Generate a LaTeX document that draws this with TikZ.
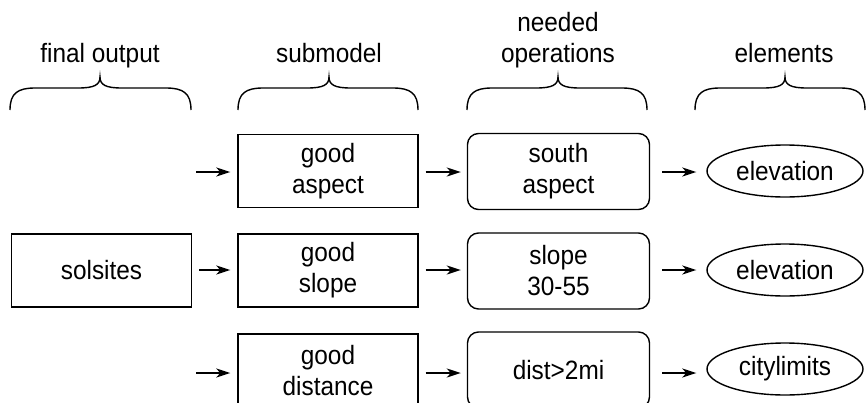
\documentclass[tikz,border=0pt]{standalone}
\usepackage{fontspec}
\setmainfont[FakeStretch=0.92]{Liberation Sans}
\usetikzlibrary{arrows.meta,shapes.geometric}
\newcommand\bracedraw[3]{%
  \draw[braceline] (#1,110) .. controls (#1,93) and (#1+8,88) .. (#1+25,88)
    -- (#3-22,88) .. controls (#3-6,88) and (#3,85) .. (#3,77)
    .. controls (#3,85) and (#3+6,88) .. (#3+22,88)
    -- (#2-25,88) .. controls (#2-8,88) and (#2,93) .. (#2,110);}
\begin{document}
\begin{tikzpicture}[x=1pt,y=-1pt,
  txt/.style={font=\fontsize{26.5}{31}\selectfont, align=center, inner sep=0pt},
  sqbox/.style={txt, draw, line width=1.4pt, minimum width=180pt, minimum height=73pt},
  rbox/.style={txt, draw, line width=1.4pt, rounded corners=11pt, minimum width=182pt, minimum height=76pt},
  ell/.style={txt, draw, ellipse, line width=1.4pt, minimum width=156pt, minimum height=52pt},
  braceline/.style={line width=1.4pt},
  arr/.style={line width=1.9pt, -{Stealth[length=14pt,width=9pt,inset=4pt]}}]
\useasboundingbox (0,0) rectangle (868,402);
\clip (0,0) rectangle (868,402);
% headings
\node[txt, anchor=base] (h1) at (100,62) {final output};
\node[txt, anchor=base] (h2) at (329,62) {submodel};
\node[txt, anchor=base] (h3) at (558,62) {needed\\operations};
\node[txt, anchor=base] (h4) at (784,62) {elements};
% braces
\bracedraw{10}{191}{100}
\bracedraw{238}{418}{329}
\bracedraw{467}{647}{558}
\bracedraw{695}{865}{785}
% boxes
\node[sqbox] (sol) at (101.5,270.5) {solsites};
\node[sqbox] (ga) at (328,171) {good\\aspect};
\node[sqbox] (gs) at (328,270.5) {good\\slope};
\node[sqbox] (gd) at (328,370.5) {good\\distance};
\node[rbox] (sa) at (558.5,171.5) {south\\aspect};
\node[rbox] (sl) at (558.5,271) {slope\\30-55};
\node[rbox] (di) at (558.5,370) {dist>2mi};
\node[ell] (e1) at (785,171) {elevation};
\node[ell] (e2) at (785,270) {elevation};
\node[ell] (e3) at (785,369) {citylimits};
% arrow free ends
\coordinate (a1) at (196,172);
\coordinate (a2) at (196,270);
\coordinate (a3) at (196,373);
\draw[arr] (a1) -- ([xshift=-7pt]ga.west |- a1);
\draw[arr, shorten <=7pt] (sol.east |- a2) -- ([xshift=-7pt]gs.west |- a2);
\draw[arr] (a3) -- ([xshift=-7pt]gd.west |- a3);
\draw[arr, shorten <=7pt, shorten >=6pt] (ga.east |- a1) -- (sa.west |- a1);
\draw[arr, shorten <=7pt, shorten >=6pt] (gs.east |- a2) -- (sl.west |- a2);
\draw[arr, shorten <=7pt, shorten >=6pt] (gd.east |- a3) -- (di.west |- a3);
\draw[arr, shorten <=12pt, shorten >=10pt] (sa.east |- a1) -- (e1.west |- a1);
\draw[arr, shorten <=12pt, shorten >=10pt] (sl.east |- a2) -- (e2.west |- a2);
\draw[arr, shorten <=12pt, shorten >=10pt] (di.east |- a3) -- (e3.west |- a3);
\end{tikzpicture}
\end{document}
